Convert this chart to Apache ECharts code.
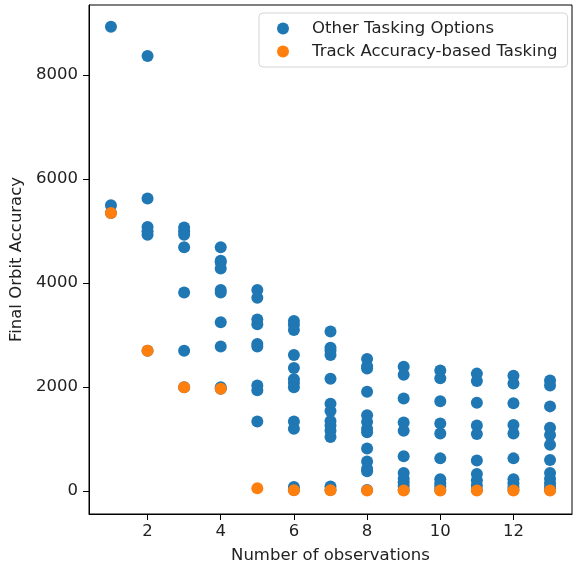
<!DOCTYPE html>
<html>
<head>
<meta charset="utf-8">
<script src="https://cdn.jsdelivr.net/npm/echarts@6/dist/echarts.min.js"></script>
<style>
  html, body { margin: 0; padding: 0; background: #fff; }
  #chart { width: 574px; height: 569px; }
</style>
</head>
<body>
<div id="chart"></div>
<script>
// number of observations (x) for each column of points
var obsCounts = [1, 2, 3, 4, 5, 6, 7, 8, 9, 10, 11, 12, 13]

// "Other Tasking Options" - accuracies per observation count
var otherAccuracy = [
  [8930, 5500, 5350],
  [8370, 5630, 5080, 5000, 4930, 2700],
  [5070, 5000, 4930, 4690, 3820, 2700, 2000],
  [4690, 4430, 4400, 4280, 3870, 3820, 3250, 2780, 2000, 1970],
  [3870, 3720, 3300, 3210, 2830, 2780, 2030, 1940, 1340],
  [3270, 3200, 3100, 2620, 2370, 2150, 2080, 2000, 1340, 1200, 80, 20],
  [3070, 2760, 2700, 2620, 2160, 1680, 1540, 1350, 1260, 1160, 1040, 90, 20],
  [2540, 2400, 2360, 1910, 1460, 1330, 1200, 1130, 820, 570, 430, 380, 20],
  [2390, 2240, 1780, 1320, 1160, 670, 350, 240, 170, 100, 20],
  [2320, 2170, 1730, 1300, 1110, 630, 230, 150, 90, 20],
  [2260, 2120, 1700, 1260, 1100, 590, 330, 210, 110, 20],
  [2220, 2070, 1690, 1270, 1110, 630, 230, 150, 80, 20],
  [2130, 2030, 1630, 1220, 1080, 890, 600, 350, 240, 150, 80, 20]
]

// "Track Accuracy-based Tasking" - one value per observation count
var trackAccuracy = [5350, 2700, 2000, 1970, 55, 15, 15, 10, 10, 10, 10, 10, 10]

var xTicks = [2, 4, 6, 8, 10, 12]
var yTicks = [0, 2000, 4000, 6000, 8000]

var otherPoints = []
obsCounts.forEach(function(n, i) {
  otherAccuracy[i].forEach(function(v) { otherPoints.push([n, v]) })
})
var trackPoints = obsCounts.map(function(n, i) { return [n, trackAccuracy[i]] })

var font = 'DejaVu Sans'
var fs = 16.5
var myChart = echarts.init(document.getElementById('chart'))

var option = {
  animation: false,
  textStyle: { fontFamily: font },
  grid: {
    left: 89, right: 2, top: 5, bottom: 53,
    show: true, borderColor: '#000', borderWidth: 1
  },
  legend: {
    orient: 'vertical',
    left: 259, top: 13,
    padding: [6, 10, 6, 18],
    itemGap: 4,
    itemWidth: 12, itemHeight: 12,
    icon: 'circle',
    backgroundColor: '#fff',
    borderColor: '#d5d5d5', borderWidth: 1, borderRadius: 4,
    textStyle: { fontFamily: font, fontSize: fs, color: '#222', lineHeight: 19, padding: [0, 0, 0, 18] },
    data: ['Other Tasking Options', 'Track Accuracy-based Tasking']
  },
  xAxis: {
    type: 'value',
    min: 0.4, max: 13.6,
    name: 'Number of observations',
    nameLocation: 'middle', nameGap: 33,
    nameTextStyle: { fontFamily: font, fontSize: fs, color: '#222' },
    splitLine: { show: false },
    axisLine: { onZero: false, lineStyle: { color: '#000', width: 1 } },
    axisTick: { show: true, length: 6, customValues: xTicks, lineStyle: { color: '#000' } },
    axisLabel: { customValues: xTicks, margin: 9, fontSize: fs, color: '#222', fontFamily: font }
  },
  yAxis: {
    type: 'value',
    min: -440, max: 9350,
    name: 'Final Orbit Accuracy',
    nameLocation: 'middle', nameGap: 62,
    nameTextStyle: { fontFamily: font, fontSize: fs, color: '#222' },
    splitLine: { show: false },
    axisLine: { show: true, onZero: false, lineStyle: { color: '#000', width: 1 } },
    axisTick: { show: true, length: 6, customValues: yTicks, lineStyle: { color: '#000' } },
    axisLabel: {
      customValues: yTicks, margin: 11, fontSize: fs, color: '#222', fontFamily: font,
      formatter: function(v) { return String(v) }
    }
  },
  series: [
    {
      name: 'Other Tasking Options',
      type: 'scatter',
      symbol: 'circle',
      symbolSize: 12,
      itemStyle: { color: '#1f77b4', opacity: 1 },
      data: otherPoints
    },
    {
      name: 'Track Accuracy-based Tasking',
      type: 'scatter',
      symbol: 'circle',
      symbolSize: 12,
      itemStyle: { color: '#ff7f0e', opacity: 1 },
      data: trackPoints
    }
  ]
}

myChart.setOption(option)
</script>
</body>
</html>
